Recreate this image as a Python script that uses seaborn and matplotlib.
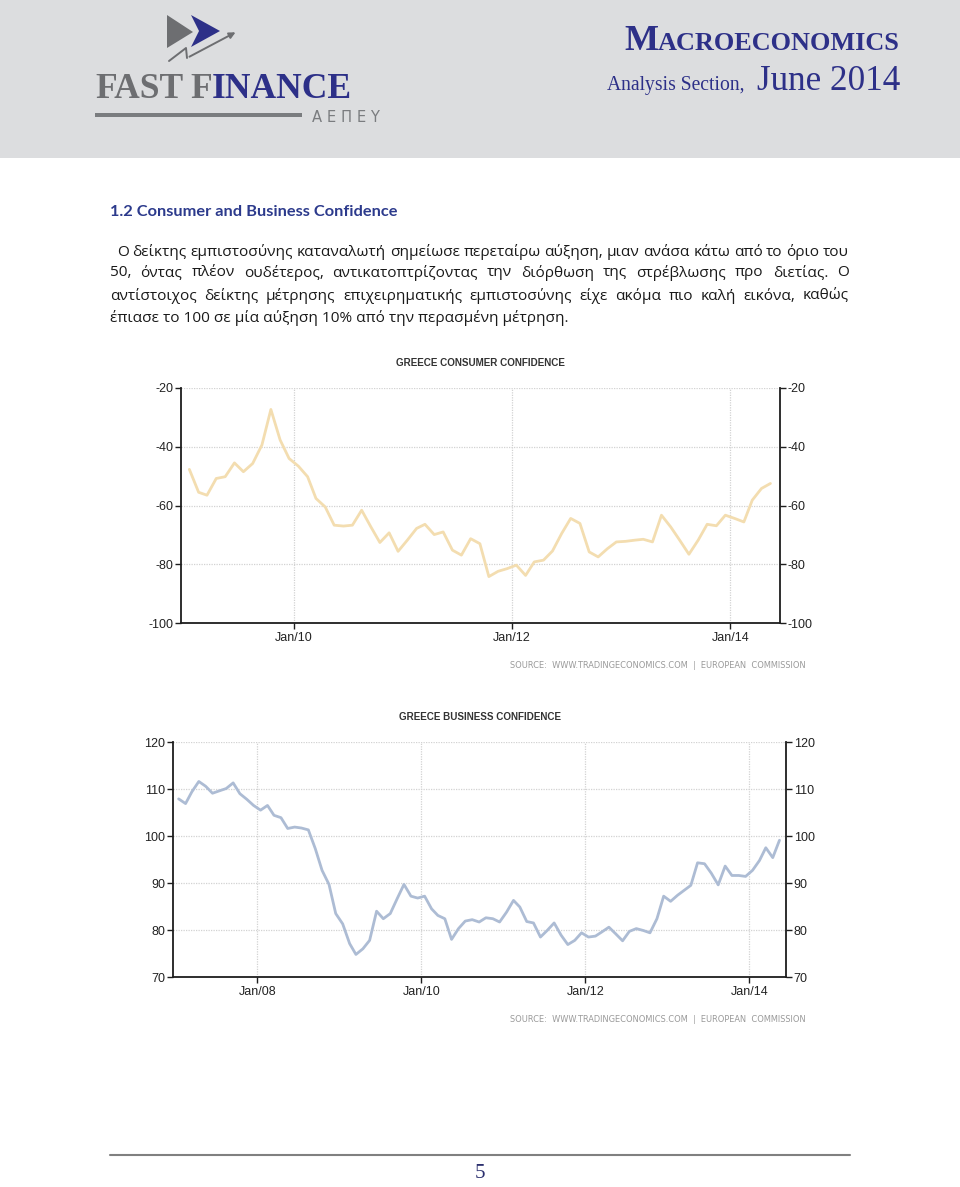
import numpy as np
import pandas as pd
import matplotlib
matplotlib.use("Agg")
import matplotlib.pyplot as plt
import matplotlib.dates as mdates
import seaborn as sns
from matplotlib.patches import Rectangle, Polygon, FancyArrowPatch
from matplotlib.lines import Line2D

# ---------------- data ----------------
consumer_start = "2009-01"
consumer_values = [
    -47.7, -55.5, -56.5, -50.8, -50.2, -45.5, -48.5, -45.7, -39.4, -27.3, -37.7, -44.0,   # 2009
    -46.6, -50.2, -57.6, -60.5, -66.7, -67.0, -66.7, -61.6, -67.3, -72.6, -69.3, -75.6,   # 2010
    -71.8, -67.8, -66.4, -69.9, -69.0, -75.2, -76.9, -71.3, -73.0, -84.2, -82.4, -81.5,   # 2011
    -80.3, -83.8, -79.2, -78.6, -75.5, -69.5, -64.4, -66.1, -75.8, -77.5, -74.7, -72.4,   # 2012
    -72.2, -71.8, -71.5, -72.4, -63.3, -67.3, -71.8, -76.6, -71.8, -66.4, -66.9, -63.3,   # 2013
    -64.4, -65.6, -58.2, -54.2, -52.5,                                                   # 2014
]
business_start = "2007-01"
business_values = [
    107.9, 106.9, 109.4, 111.6, 110.6, 109.1, 109.6, 110.1, 111.3, 109.0, 107.8, 106.5,  # 2007
    105.5, 106.5, 104.4, 103.9, 101.6, 101.9, 101.7, 101.3, 97.3, 92.7, 89.7, 83.5,      # 2008
    81.3, 77.1, 74.8, 76.0, 77.8, 84.0, 82.4, 83.5, 86.7, 89.7, 87.2, 86.8,              # 2009
    87.2, 84.5, 83.1, 82.4, 78.0, 80.3, 81.9, 82.2, 81.7, 82.6, 82.4, 81.7,              # 2010
    83.8, 86.3, 84.9, 81.8, 81.5, 78.5, 79.9, 81.5, 78.9, 76.9, 77.8, 79.4,              # 2011
    78.5, 78.7, 79.6, 80.6, 79.2, 77.7, 79.7, 80.3, 79.9, 79.4, 82.4, 87.2,              # 2012
    86.1, 87.4, 88.4, 89.5, 94.3, 94.1, 92.1, 89.6, 93.6, 91.6, 91.6, 91.4,              # 2013
    92.7, 94.8, 97.5, 95.4, 99.1,                                                        # 2014
]
consumer_yticks = [-100, -80, -60, -40, -20]
business_yticks = [70, 80, 90, 100, 110, 120]
consumer_xtick_years = [2010, 2012, 2014]
business_xtick_years = [2008, 2010, 2012, 2014]
consumer_title = "GREECE CONSUMER CONFIDENCE"
business_title = "GREECE BUSINESS CONFIDENCE"
source_text = "SOURCE:  WWW.TRADINGECONOMICS.COM  |  EUROPEAN  COMMISSION"
section_title = "1.2 Consumer and Business Confidence"
para_lines = [
    " Ο δείκτης εμπιστοσύνης καταναλωτή σημείωσε περεταίρω αύξηση, μιαν ανάσα κάτω από το όριο του",
    "50, όντας πλέον ουδέτερος, αντικατοπτρίζοντας την διόρθωση της στρέβλωσης προ διετίας. Ο",
    "αντίστοιχος δείκτης μέτρησης επιχειρηματικής εμπιστοσύνης είχε ακόμα πιο καλή εικόνα, καθώς",
    "έπιασε το 100 σε μία αύξηση 10% από την περασμένη μέτρηση.",
]

# ---------------- style ----------------
sns.set_theme(style="white")
plt.rcParams["font.family"] = ["Liberation Sans", "DejaVu Sans"]
plt.rcParams["axes.unicode_minus"] = False

W, H = 960, 1187
fig = plt.figure(figsize=(W / 100, H / 100), dpi=100)
fig.patch.set_facecolor("white")
rend = fig.canvas.get_renderer()

NAVY = "#2d3088"
GREY = "#6d6e71"


def fx(x):
    return x / W


def fy(y):
    return 1 - y / H


def txt(x, y, s, size=10, **kw):
    return fig.text(fx(x), fy(y), s, fontsize=size, **kw)


def wpx(t):
    return t.get_window_extent(renderer=rend).width


def fit(t, target):
    for _ in range(2):
        t.set_fontsize(t.get_fontsize() * target / wpx(t))
    return t


# ---------------- header ----------------
fig.add_artist(Rectangle((0, fy(158)), 1, 158 / H, transform=fig.transFigure,
                         facecolor="#dcdddf", edgecolor="none", zorder=0))
# logo marks
fig.add_artist(Polygon([(fx(167), fy(15)), (fx(193), fy(32)), (fx(167), fy(48))],
                       closed=True, transform=fig.transFigure, facecolor=GREY, edgecolor="none"))
fig.add_artist(Polygon([(fx(191), fy(15)), (fx(220), fy(31)), (fx(191), fy(47)), (fx(199), fy(31))],
                       closed=True, transform=fig.transFigure, facecolor=NAVY, edgecolor="none"))
fig.add_artist(Line2D([fx(169), fx(186), fx(187)], [fy(61), fy(48), fy(58)],
                      transform=fig.transFigure, color=GREY, lw=1.4))
fig.add_artist(FancyArrowPatch((fx(187), fy(58)), (fx(238), fy(31)), transform=fig.transFigure,
                               arrowstyle="-|>", mutation_scale=9, color=GREY, lw=1.4))
fig.add_artist(Rectangle((fx(95), fy(117)), (302 - 95) / W, 4 / H, transform=fig.transFigure,
                         facecolor="#7a7c7f", edgecolor="none"))

logo_font = dict(family=["Liberation Serif", "DejaVu Serif"], weight="bold", va="baseline")
t_fast = txt(95, 98, "FAST", 30, color=GREY, **logo_font)
fit(t_fast, 88)
fs = t_fast.get_fontsize()
t_f = txt(190, 98, "F", fs, color=GREY, **logo_font)
t_inance = txt(190 + wpx(t_f), 98, "INANCE", fs, color=NAVY, **logo_font)
t_ae = txt(312, 117, "Α Ε Π Ε Υ", 9, color="#7a7c7f", family=["DejaVu Sans"], va="center")
fit(t_ae, 68)

# right header
hfont = dict(family=["Liberation Serif", "DejaVu Serif"], va="baseline", color=NAVY)
t_m = txt(624, 50, "M", 20, weight="bold", **hfont)
t_acro = txt(624, 50, "ACROECONOMICS", 14.5, weight="bold", **hfont)
tot = wpx(t_m) + wpx(t_acro)
scale = 276 / tot
t_m.set_fontsize(t_m.get_fontsize() * scale)
t_acro.set_fontsize(t_acro.get_fontsize() * scale)
t_acro.set_x(fx(624 + wpx(t_m)))
t_an = txt(607, 90, "Analysis Section,", 14, **hfont)
fit(t_an, 138)
t_jun = txt(757, 90, "June 2014", 22, **hfont)
fit(t_jun, 143)

# ---------------- section title & paragraph ----------------
t_sec = txt(110, 212, section_title, 11, family=["Lato", "DejaVu Sans"], weight="bold",
            color="#2c3a8c", va="center")
fit(t_sec, 286)

pfont = dict(family=["Open Sans", "DejaVu Sans"], color="#1a1a1a", va="center")
probe = txt(110, 318, para_lines[3], 10, **pfont)
fit(probe, 455)
psize = probe.get_fontsize()
probe.remove()

line_y = [252, 273, 296, 318]
x_left, x_right = 110, 849
for i, (line, y) in enumerate(zip(para_lines, line_y)):
    if i < 3:
        start = x_left + (7 if line.startswith(" ") else 0)
        words = line.split()
        arts = [txt(start, y, w, psize, **pfont) for w in words]
        widths = [wpx(a) for a in arts]
        gap = (x_right - start - sum(widths)) / (len(words) - 1)
        x = start
        for a, w in zip(arts, widths):
            a.set_x(fx(x))
            x += w + gap
    else:
        txt(x_left, y, line, psize, **pfont)


# ---------------- charts ----------------
def chart(rect, start, values, color, yticks, years, xlim, title, title_y, title_w, source_y):
    left, top, right, bottom = rect
    ax = fig.add_axes([fx(left), fy(bottom), (right - left) / W, (bottom - top) / H])
    dates = pd.date_range(start=start, periods=len(values), freq="MS") + pd.Timedelta(days=14)
    df = pd.DataFrame({"date": dates, "value": values})
    sns.lineplot(data=df, x="date", y="value", ax=ax, color=color, linewidth=2.0)
    ax.set_ylim(yticks[0], yticks[-1])
    ax.set_yticks(yticks)
    ax.set_xlim(pd.Timestamp(xlim[0]), pd.Timestamp(xlim[1]))
    ax.set_xticks([pd.Timestamp(f"{y}-01-01") for y in years])
    ax.xaxis.set_major_formatter(mdates.DateFormatter("%b/%y"))
    ax.set_xlabel("")
    ax.set_ylabel("")
    ax.set_facecolor("white")
    ax.grid(True, color="#d2d2d2", linestyle=(0, (1, 1)), linewidth=0.9)
    for sp in ["left", "right", "bottom"]:
        ax.spines[sp].set_visible(True)
        ax.spines[sp].set_color("#1e1e1e")
        ax.spines[sp].set_linewidth(1.3)
    ax.spines["top"].set_visible(False)
    ax.tick_params(axis="y", which="both", left=True, right=True, labelleft=True, labelright=True,
                   length=4, width=1, color="#1e1e1e", labelsize=9, labelcolor="#222222",
                   pad=1.5, direction="out")
    ax.tick_params(axis="x", bottom=True, length=4, width=1, color="#1e1e1e", labelsize=9,
                   labelcolor="#222222", pad=2.5, direction="out")
    t = txt(480, title_y, title, 9, weight="bold", color="#333333", ha="center", va="center")
    fit(t, title_w)
    s = txt(510, source_y, source_text, 6, color="#9a9a9a", family=["DejaVu Sans"], va="center")
    fit(s, 292)
    return ax


chart((181, 388, 780, 623), consumer_start, consumer_values, "#f3ddb0", consumer_yticks,
      consumer_xtick_years, ("2008-12-18", "2014-06-16"), consumer_title, 363, 170, 665)
chart((173, 742, 786, 977), business_start, business_values, "#adbcd4", business_yticks,
      business_xtick_years, ("2006-12-21", "2014-06-13"), business_title, 717, 163, 1019)

# ---------------- footer ----------------
fig.add_artist(Line2D([fx(110), fx(850)], [fy(1155), fy(1155)], transform=fig.transFigure,
                      color="#808080", lw=1.5))
txt(480, 1173, "5", 15, family=["Liberation Serif", "DejaVu Serif"], color="#2b2f6e",
    ha="center", va="center")

fig.savefig("out.png", dpi=100)
